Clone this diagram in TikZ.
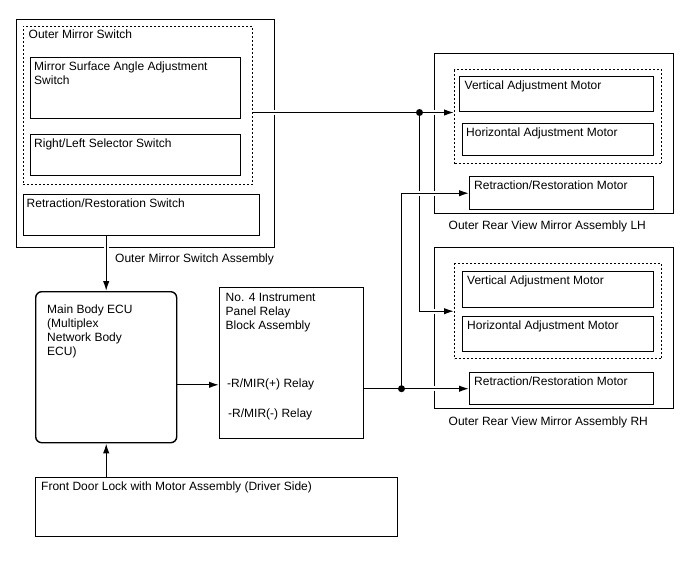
\documentclass[tikz,border=0pt]{standalone}
\usepackage{fontspec}
\setmainfont{Liberation Sans}
\usetikzlibrary{arrows.meta}

\begin{document}
\begin{tikzpicture}[x=1pt, y=-1pt, line width=1.4pt, every node/.style={font=\fontsize{12}{14}\selectfont},
  box/.style={draw, rectangle, anchor=north west, inner sep=0pt}, dbox/.style={box, dash pattern=on 2pt off 2pt},
  txt/.style={anchor=north west, align=left, inner xsep=3.5pt, inner ysep=4pt},
  conn/.style={-{Latex[length=10pt,width=6.5pt]}, preaction={draw=white, line width=5pt, -, shorten <=3pt, shorten >=3pt}}]
  \useasboundingbox (0,0) rectangle (688,560);

  \node[box, minimum width=258pt, minimum height=228pt] (oms) at (16,19) {};
  \node[dbox, minimum width=229.5pt, minimum height=158pt] (omsw) at (22.5,25.5) {};
  \node[txt, xshift=2pt] (omswt) at (omsw.north west) {Outer Mirror Switch};
  \node[box, minimum width=210pt, minimum height=61pt] (msa) at (30,57) {};
  \node[txt] (msat) at (msa.north west) {Mirror Surface Angle Adjustment\\Switch};
  \node[box, minimum width=210pt, minimum height=41pt] (rls) at (30,134) {};
  \node[txt] (rlst) at (rls.north west) {Right/Left Selector Switch};
  \node[box, minimum width=236.5pt, minimum height=41pt] (rsw) at (22.5,194) {};
  \node[txt] (rswt) at (rsw.north west) {Retraction/Restoration Switch};
  \node[txt] (omsl) at (111,249) {Outer Mirror Switch Assembly};

  \node[box, rounded corners=6pt, minimum width=141pt, minimum height=151pt] (ecu) at (35,291) {};
  \node[txt, xshift=8pt, yshift=-9.5pt] (ecut) at (ecu.north west) {Main Body ECU\\(Multiplex\\Network Body\\ECU)};
  \node[box, minimum width=144pt, minimum height=151pt] (relay) at (219,287) {};
  \node[txt, xshift=2.5pt, yshift=-1.5pt] (relayt) at (relay.north west) {No. 4 Instrument\\Panel Relay\\Block Assembly};
  \node[txt] (plus) at (223,374.5) {-R/MIR(+) Relay};
  \node[txt] (minus) at (224,404) {-R/MIR(-) Relay};
  \node[box, minimum width=362pt, minimum height=59pt] (door) at (35,477) {};
  \node[txt, xshift=2pt] (doort) at (door.north west) {Front Door Lock with Motor Assembly (Driver Side)};

  \node[box, minimum width=239pt, minimum height=160pt] (lh) at (434,53) {};
  \node[dbox, minimum width=207pt, minimum height=94pt] (lhd) at (454,69) {};
  \node[box, minimum width=194pt, minimum height=35pt] (lhv) at (459,76) {};
  \node[txt, xshift=1.5pt] (lhvt) at (lhv.north west) {Vertical Adjustment Motor};
  \node[box, minimum width=191pt, minimum height=32pt] (lhh) at (462,123) {};
  \node[txt] (lhht) at (lhh.north west) {Horizontal Adjustment Motor};
  \node[box, minimum width=184pt, minimum height=33pt] (lhr) at (469,176) {};
  \node[txt, xshift=1pt] (lhrt) at (lhr.north west) {Retraction/Restoration Motor};
  \node[txt, xshift=10.5pt, yshift=-2pt] (lhl) at (lh.south west) {Outer Rear View Mirror Assembly LH};

  \node[box, minimum width=239pt, minimum height=161pt] (rh) at (434,247) {};
  \node[dbox, minimum width=207pt, minimum height=95pt] (rhd) at (454,263) {};
  \node[box, minimum width=191pt, minimum height=36pt] (rhv) at (462,271) {};
  \node[txt, xshift=1pt] (rhvt) at (rhv.north west) {Vertical Adjustment Motor};
  \node[box, minimum width=191pt, minimum height=35pt] (rhh) at (462,316) {};
  \node[txt, xshift=1pt] (rhht) at (rhh.north west) {Horizontal Adjustment Motor};
  \node[box, minimum width=184pt, minimum height=32pt] (rhr) at (469,372) {};
  \node[txt, xshift=1pt] (rhrt) at (rhr.north west) {Retraction/Restoration Motor};
  \node[txt, xshift=10.5pt, yshift=-3pt] (rhl) at (rh.south west) {Outer Rear View Mirror Assembly RH};

  \coordinate (j1) at (419.5,112.5);
  \coordinate (j2) at (401.5,388.7);
  \draw[conn] (ecu.north |- rsw.south) -- (ecu.north);
  \draw[conn] (ecu.south |- door.north) -- (ecu.south);
  \draw[conn] (ecu.east |- plus.west) -- (relay.west |- plus.west);
  \draw[conn] (relay.east |- rhr.west) -- (rhr.west);
  \draw[conn] (omsw.east |- j1) -- (lhd.west |- j1);
  \draw[conn] (j1) |- (rhd.west);
  \draw[conn] (j2) |- (lhr.west);
  \fill (j1) circle (3.5pt);
  \fill (j2) circle (3.5pt);
\end{tikzpicture}
\end{document}
